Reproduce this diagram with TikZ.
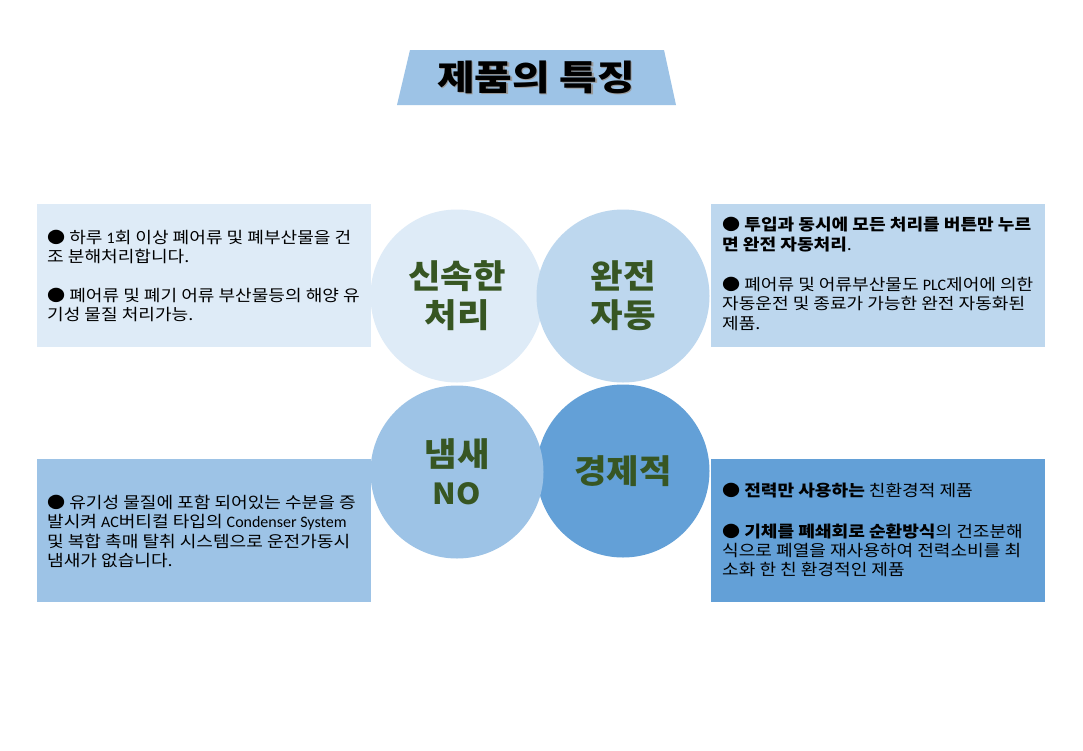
\documentclass[tikz,border=0pt]{standalone}
\usepackage{fontspec}
\setmainfont{Noto Sans CJK KR}[FakeStretch=1.13]
\newfontfamily\circfont{Noto Sans CJK KR}[FakeStretch=1.07]
\newfontfamily\ttlfont{Noto Sans CJK KR}[FakeStretch=1.17]
\newfontfamily\lat{Carlito}
\definecolor{cA}{HTML}{DEEBF7}
\definecolor{cB}{HTML}{BDD7EE}
\definecolor{cC}{HTML}{9DC3E6}
\definecolor{cD}{HTML}{63A0D7}
\definecolor{dgreen}{HTML}{375623}
\tikzset{
  box/.style={draw=none, inner sep=0pt, minimum width=334pt, minimum height=143pt, anchor=north west},
  bub/.style={circle, draw=none, inner sep=0pt, minimum size=173pt},
  btxt/.style={font=\fontsize{16}{19.4}\selectfont, align=left, anchor=north west, inner sep=0pt, text=black},
  ctxt/.style={font=\circfont\fontsize{33}{39}\selectfont\bfseries, text=dgreen, align=center},
  ttl/.style={font=\ttlfont\fontsize{35}{40}\selectfont\bfseries}
}
\begin{document}
\begin{tikzpicture}[x=1pt,y=-1pt]
\useasboundingbox (0,0) rectangle (1083,750);
\fill[white] (0,0) rectangle (1083,750);
% title
\fill[cC] (410,50) -- (664,50) -- (676,105) -- (397,105) -- cycle;
\node[ttl, text=black!40] (tshadow) at (537.5,78.5) {제품의 특징};
\node[ttl, text=black] (title) at (536,77) {제품의 특징};
% boxes
\node[box, fill=cA] (b1) at (37,204) {};
\node[box, fill=cB] (b2) at (711,204) {};
\node[box, fill=cC] (b3) at (37,459) {};
\node[box, fill=cD] (b4) at (711,459) {};
% circles
\node[bub, fill=cA, ctxt] (k1) at (457,296) {신속한\\처리};
\node[bub, fill=cB, ctxt] (k2) at (623,296) {완전\\자동};
\node[bub, fill=cD, ctxt] (k4) at (623,471) {경제적};
\node[bub, fill=cC, ctxt] (k3) at (457,472) {냄새\\[-1pt]{\fontsize{29}{39}\selectfont NO}};
% texts
\node[btxt] (t1) at (47,230) {● 하루 {\lat 1}회 이상 폐어류 및 폐부산물을 건\\조 분해처리합니다.\\[19pt]● 폐어류 및 폐기 어류 부산물등의 해양 유\\기성 물질 처리가능.};
\node[btxt] (t2) at (722,217) {\textbf{● 투입과 동시에 모든 처리를 버튼만 누르}\\\textbf{면 완전 자동처리}.\\[21pt]● 폐어류 및 어류부산물도 {\lat PLC}제어에 의한\\자동운전 및 종료가 가능한 완전 자동화된\\제품.};
\node[btxt] (t3) at (47,495) {● 유기성 물질에 포함 되어있는 수분을 증\\발시켜 {\lat AC}버티컬 타입의 {\lat Condenser System}\\및 복합 촉매 탈취 시스템으로 운전가동시\\냄새가 없습니다.};
\node[btxt] (t4) at (722,483) {● \textbf{전력만 사용하는} 친환경적 제품\\[21pt]● \textbf{기체를 폐쇄회로 순환방식}의 건조분해\\식으로 폐열을 재사용하여 전력소비를 최\\소화 한 친 환경적인 제품};
\end{tikzpicture}
\end{document}
